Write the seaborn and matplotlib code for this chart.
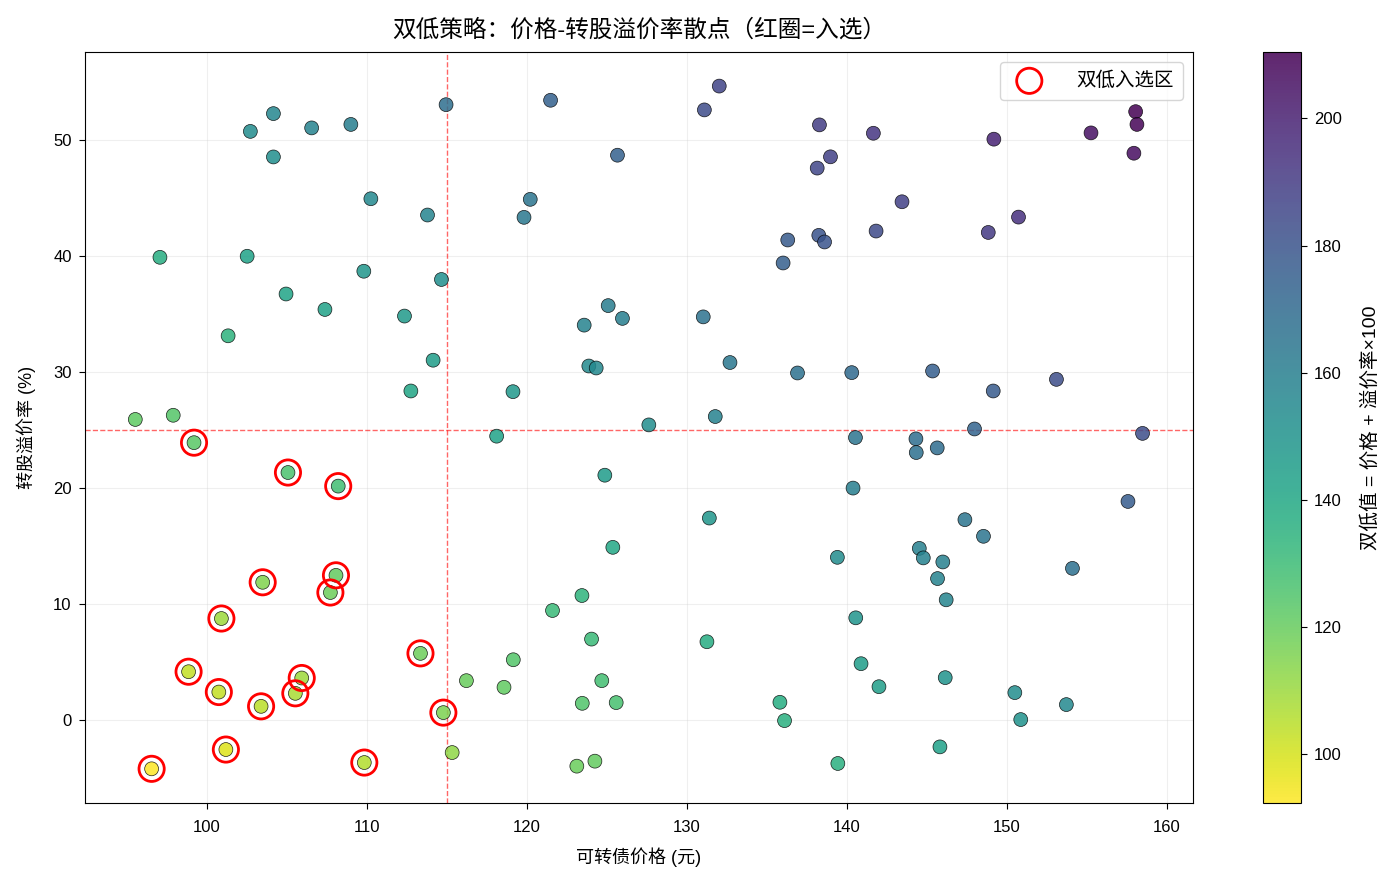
import numpy as np, pandas as pd
import matplotlib; matplotlib.use("Agg")
import matplotlib.pyplot as plt
import seaborn as sns

sns.set_style("ticks")
plt.rcParams['font.family'] = ['Liberation Sans', 'Noto Sans CJK SC', 'DejaVu Sans']
plt.rcParams['axes.unicode_minus'] = False
for k in ("text.color", "axes.labelcolor", "xtick.color", "ytick.color", "axes.edgecolor"):
    plt.rcParams[k] = "black"

# convertible bond price (yuan) and conversion premium (%)
price = [
    # upper-left
    114.95, 104.16, 102.72, 106.55, 109.0, 104.16, 110.25, 113.79, 97.07, 102.52,
    109.81, 114.66, 104.95, 107.38, 112.35, 101.33, 114.14, 112.75, 95.53, 97.9,
    # lower-left
    99.2, 105.07, 108.21, 103.49, 108.07, 107.72, 100.91, 113.35, 98.86, 105.93,
    105.53, 100.75, 103.39, 114.78, 101.19, 109.84, 96.55, 115.33,
    # middle top
    121.48, 132.02, 131.09, 125.66, 120.21, 119.82, 136.3, 136.01, 125.08, 123.58,
    125.97, 131.02, 123.87, 124.33, 119.13, 132.69, 136.91, 131.77, 127.62,
    # right top
    138.28, 141.65, 149.18, 155.25, 158.04, 158.12, 157.93, 138.97, 138.14, 143.44,
    150.72, 138.24, 138.6, 141.82, 148.83, 140.3, 145.35, 153.09, 149.14, 147.97,
    158.47,
    # right bottom
    140.53, 144.31, 144.33, 145.64, 140.38, 157.56, 147.37, 148.53, 139.4, 144.52,
    144.77, 145.99, 154.09, 145.66, 146.2, 140.55, 140.88, 146.14, 142.0, 150.49,
    153.71, 150.86, 145.81, 139.43,
    # middle bottom
    118.11, 124.87, 131.4, 125.37, 123.44, 121.6, 124.04, 131.25, 119.15, 116.22,
    118.57, 124.68, 123.46, 125.58, 135.81, 136.1, 123.12, 124.25,
]
premium = [
    53.0, 52.23, 50.7, 51.0, 51.3, 48.5, 44.9, 43.5, 39.86, 39.95,
    38.66, 37.95, 36.7, 35.37, 34.8, 33.1, 31.0, 28.35, 25.9, 26.26,
    23.9, 21.33, 20.16, 11.88, 12.48, 11.0, 8.76, 5.76, 4.18, 3.64,
    2.32, 2.43, 1.2, 0.66, -2.52, -3.64, -4.18, -2.78,
    53.38, 54.6, 52.55, 48.65, 44.85, 43.3, 41.35, 39.37, 35.7, 34.02,
    34.6, 34.73, 30.5, 30.33, 28.29, 30.8, 29.9, 26.15, 25.43,
    51.26, 50.54, 50.03, 50.57, 52.4, 51.3, 48.82, 48.51, 47.54, 44.64,
    43.32, 41.75, 41.18, 42.12, 42.0, 29.93, 30.07, 29.35, 28.35, 25.08,
    24.7,
    24.34, 24.23, 23.05, 23.45, 19.99, 18.84, 17.27, 15.84, 14.03, 14.8,
    13.98, 13.63, 13.08, 12.2, 10.37, 8.82, 4.87, 3.67, 2.89, 2.38,
    1.35, 0.06, -2.29, -3.72,
    24.46, 21.1, 17.41, 14.89, 10.74, 9.45, 6.99, 6.76, 5.21, 3.41,
    2.84, 3.41, 1.46, 1.52, 1.55, -0.03, -3.95, -3.52,
]
PRICE_CUT, PREM_CUT = 115, 25

df = pd.DataFrame({"price": price, "premium": premium})
df["score"] = df.price + df.premium
sel = df[(df.price < PRICE_CUT) & (df.premium < PREM_CUT)]

fig = plt.figure(figsize=(13.97, 8.85), dpi=100)
ax = fig.add_axes([0.0608, 0.0927, 0.7931, 0.8486])
cax = fig.add_axes([0.904, 0.0927, 0.0272, 0.8486])

norm = plt.Normalize(df.score.min(), df.score.max())
cmap = plt.get_cmap("viridis_r")
sns.scatterplot(data=df, x="price", y="premium", hue="score", hue_norm=norm,
                palette=cmap, s=100, alpha=0.85, edgecolor="black", linewidth=0.5,
                legend=False, ax=ax, zorder=3)
ax.scatter(sel.price, sel.premium, s=330, facecolors="none", edgecolors="red",
           linewidths=2, label="双低入选区", zorder=4)
ax.axvline(PRICE_CUT, color="red", ls="--", lw=1, alpha=0.6)
ax.axhline(PREM_CUT, color="red", ls="--", lw=1, alpha=0.6)

ax.grid(True, alpha=0.3)
ax.set_title("双低策略：价格-转股溢价率散点（红圈=入选）", fontsize=17, pad=11)
ax.set_xlabel("可转债价格 (元)", fontsize=13, labelpad=9)
ax.set_ylabel("转股溢价率 (%)", fontsize=13, labelpad=12)
ax.tick_params(labelsize=12, length=4.5)
ax.tick_params(axis="x", pad=8)
ax.tick_params(axis="y", pad=5)
ax.legend(loc="upper right", fontsize=14, borderpad=0.5, handletextpad=1.4)

sm = plt.cm.ScalarMappable(norm=norm, cmap=cmap)
cb = fig.colorbar(sm, cax=cax, alpha=0.85)
cb.set_label("双低值 = 价格 + 溢价率×100", fontsize=14, labelpad=14)
cb.ax.tick_params(labelsize=12, length=4.5, pad=5)

fig.savefig("out.png", dpi=100)
